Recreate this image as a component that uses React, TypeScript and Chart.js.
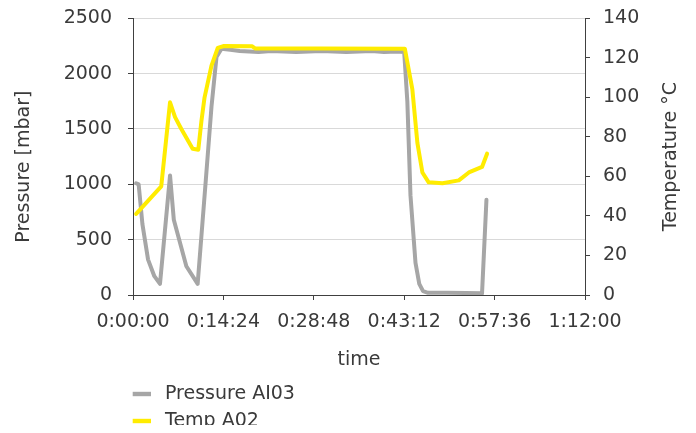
import React, { useEffect, useRef } from "react";
import { Chart, registerables } from "chart.js";

Chart.register(...registerables);

// ---- data (time in minutes) ----
const pressureTimes = [
  0.5, 0.9, 1.5, 2.4, 3.4, 4.3, 5.9, 6.5, 8.5, 10.3, 11.6, 12.5, 13.3, 14.1,
  15.5, 17, 18.5, 20, 22, 24, 26, 28, 30, 32, 34, 36, 38, 40, 42, 43.2,
  43.7, 44.2, 45.0, 45.6, 46.2, 47, 50, 53, 55.6, 56.3,
];
const pressureValues = [
  1010, 1000, 640, 320, 170, 100, 1080, 680, 260, 100, 1040, 1700, 2150, 2225,
  2215, 2205, 2200, 2195, 2205, 2200, 2195, 2200, 2205, 2200, 2195, 2200, 2205, 2195, 2200, 2195,
  1750, 900, 290, 100, 35, 20, 20, 18, 15, 860,
];
const tempTimes = [
  0.5, 2.5, 4.5, 5.9, 6.7, 7.7, 9.5, 10.4, 10.9, 11.4, 12.5, 13.5, 14.5,
  19, 19.5, 30, 43.3, 44.5, 45.3, 46.1, 47.1, 49.3, 51.9, 53.5, 55.6, 56.4,
];
const tempValues = [
  41, 48, 55, 97.5, 90, 84, 74, 73.5, 88, 100, 116, 125, 126,
  125.8, 124.7, 124.7, 124.6, 104, 77, 62, 57, 56.5, 58, 62, 64.8, 71.5,
];

const seriesLabels = ["Pressure AI03", "Temp A02"];
const leftTitle = "Pressure [mbar]";
const rightTitle = "Temperature °C";
const xTitle = "time";

const xMinSec = 0;
const xMaxSec = 4320;
const xStepSec = 864;
const pMin = 0;
const pMax = 2500;
const pStep = 500;
const tMin = 0;
const tMax = 140;
const tStep = 20;

const FONT = "'DejaVu Sans', sans-serif";
const TEXT = "#3a3a3a";
const AXIS = "#404040";
const GRAY = "#a6a6a6";
const YELLOW = "#ffec00";

function pad2(n: number) {
  return n < 10 ? "0" + n : String(n);
}
function fmtTime(sec: number) {
  const s = Math.round(sec);
  const h = Math.floor(s / 3600);
  const m = Math.floor((s % 3600) / 60);
  const r = s % 60;
  return `${h}:${pad2(m)}:${pad2(r)}`;
}

const overlayPlugin = {
  id: "overlay",
  afterDraw(chart: any) {
    const ctx = chart.ctx as CanvasRenderingContext2D;
    const area = chart.chartArea;
    ctx.save();
    ctx.font = `19px ${FONT}`;
    ctx.fillStyle = TEXT;
    ctx.textAlign = "center";
    ctx.textBaseline = "middle";
    // left axis title
    ctx.save();
    ctx.translate(16, area.top + (area.bottom - area.top) / 2 + 10);
    ctx.rotate(-Math.PI / 2);
    ctx.fillText(leftTitle, 0, 0);
    ctx.restore();
    // right axis title
    ctx.save();
    ctx.translate(663, area.top + (area.bottom - area.top) / 2);
    ctx.rotate(-Math.PI / 2);
    ctx.fillText(rightTitle, 0, 0);
    ctx.restore();
    // legend (vertical, below)
    chart.data.datasets.forEach((ds: any, i: number) => {
      const y = 386 + i * 27;
      ctx.fillStyle = ds.borderColor;
      ctx.fillRect(area.left - 0.3, y - 2.2, 18.3, 4.4);
      ctx.fillStyle = TEXT;
      ctx.textAlign = "left";
      ctx.fillText(ds.label, area.left + 32, y);
    });
    ctx.restore();
  },
};

export default function App() {
  const ref = useRef<HTMLCanvasElement | null>(null);

  useEffect(() => {
    if (!ref.current) return;
    Chart.defaults.font.family = FONT;
    Chart.defaults.color = TEXT;

    const pressureData = pressureTimes.map((t, i) => ({ x: t * 60, y: pressureValues[i] }));
    const tempData = tempTimes.map((t, i) => ({ x: t * 60, y: tempValues[i] }));

    const fixVertical = (width: number) => (s: any) => {
      s.width = width;
      s.paddingTop = 10.3;
      s.paddingBottom = 0;
    };

    const chart = new Chart(ref.current, {
      type: "line",
      data: {
        datasets: [
          {
            label: seriesLabels[0],
            data: pressureData,
            yAxisID: "y",
            borderColor: GRAY,
            backgroundColor: GRAY,
            borderWidth: 4,
            pointRadius: 0,
            tension: 0,
            borderJoinStyle: "round",
            borderCapStyle: "round",
            order: 1,
          },
          {
            label: seriesLabels[1],
            data: tempData,
            yAxisID: "y1",
            borderColor: YELLOW,
            backgroundColor: YELLOW,
            borderWidth: 4,
            pointRadius: 0,
            tension: 0,
            borderJoinStyle: "round",
            borderCapStyle: "round",
            order: 0,
          },
        ],
      },
      options: {
        animation: false,
        responsive: true,
        maintainAspectRatio: false,
        layout: { padding: { left: 0, right: 0, top: 0, bottom: 61.6 } },
        plugins: {
          legend: { display: false },
          tooltip: { enabled: false },
        },
        scales: {
          x: {
            type: "linear",
            min: xMinSec,
            max: xMaxSec,
            ticks: {
              stepSize: xStepSec,
              autoSkip: false,
              maxRotation: 0,
              minRotation: 0,
              padding: 10.5,
              color: TEXT,
              font: { family: FONT, size: 19, lineHeight: 1.2 },
              callback: (v: any) => fmtTime(Number(v)),
            },
            grid: {
              drawOnChartArea: false,
              tickLength: 5,
              tickColor: AXIS,
              tickWidth: 1,
            },
            border: { color: AXIS, width: 1 },
            title: {
              display: true,
              text: xTitle,
              color: TEXT,
              font: { family: FONT, size: 19, lineHeight: 1.2 },
              padding: { top: 0, bottom: 0 },
            },
            afterFit: (s: any) => {
              s.height = 76.4;
            },
          },
          y: {
            type: "linear",
            position: "left",
            min: pMin,
            max: pMax,
            ticks: {
              stepSize: pStep,
              padding: 16,
              color: TEXT,
              font: { family: FONT, size: 19, lineHeight: 1.1 },
              callback: (v: any) => String(v),
            },
            grid: {
              color: "#d9d9d9",
              lineWidth: 1,
              tickLength: 5,
              tickColor: AXIS,
              tickWidth: 1,
            },
            border: { color: AXIS, width: 1 },
            afterFit: fixVertical(125),
          },
          y1: {
            type: "linear",
            position: "right",
            min: tMin,
            max: tMax,
            ticks: {
              stepSize: tStep,
              padding: 13,
              color: TEXT,
              font: { family: FONT, size: 19, lineHeight: 1.1 },
              callback: (v: any) => String(v),
            },
            grid: {
              drawOnChartArea: false,
              tickLength: 5,
              tickColor: AXIS,
              tickWidth: 1,
            },
            border: { color: AXIS, width: 1 },
            afterFit: fixVertical(103),
          },
        },
      },
      plugins: [overlayPlugin],
    } as any);

    return () => {
      chart.destroy();
    };
  }, []);

  return (
    <div style={{ position: "relative", width: 680, height: 425, marginBottom: -8 }}>
      <canvas ref={ref} />
    </div>
  );
}
